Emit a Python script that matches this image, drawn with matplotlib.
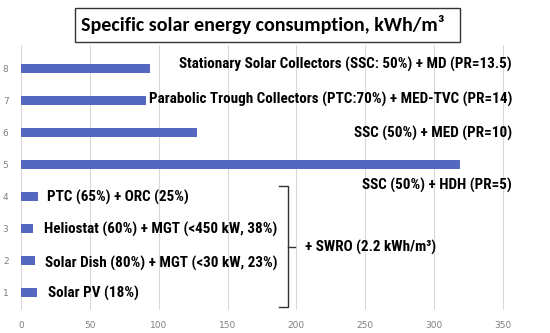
import matplotlib
matplotlib.use("Agg")
import matplotlib.pyplot as plt
from matplotlib.patches import Rectangle

# Data
positions = [1, 2, 3, 4, 5, 6, 7, 8]
values = [11.5, 10, 8.7, 12.5, 319, 128, 91, 94]
labels = [
    "Solar PV (18%)",
    "Solar Dish (80%) + MGT (<30 kW, 23%)",
    "Heliostat (60%) + MGT (<450 kW, 38%)",
    "PTC (65%) + ORC (25%)",
    "SSC (50%) + HDH (PR=5)",
    "SSC (50%) + MED (PR=10)",
    "Parabolic Trough Collectors (PTC:70%) + MED-TVC (PR=14)",
    "Stationary Solar Collectors (SSC: 50%) + MD (PR=13.5)",
]
xticks = [0, 50, 100, 150, 200, 250, 300, 350]
title = "Specific solar energy consumption, kWh/m³"
group_label = "+ SWRO (2.2 kWh/m³)"

narrow = ["Roboto Condensed", "Archivo Narrow", "Liberation Sans", "DejaVu Sans"]

W, H = 550, 333
fig = plt.figure(figsize=(W / 100, H / 100), dpi=100)
ax_left, ax_right = 21, 530
ax_bottom, ax_top = 310, 45
ax = fig.add_axes([ax_left / W, 1 - ax_bottom / H, (ax_right - ax_left) / W, (ax_bottom - ax_top) / H])
ax.set_xlim(0, (ax_right - ax_left) / 1.377)
ax.set_ylim(0.47, 8 + (68 - ax_top) / 32.1)

ax.barh(positions, values, height=0.28, color="#5468c0", zorder=3)
ax.set_xticks(xticks)
ax.set_yticks(positions)
ax.tick_params(axis="both", length=0, labelsize=6.5, colors="#7f7f7f")
ax.tick_params(axis="y", pad=9)
ax.tick_params(axis="x", pad=8)
ax.grid(axis="x", color="#d9d9d9", linewidth=0.8, zorder=0)
for s in ax.spines.values():
    s.set_visible(False)

fkw = dict(family=narrow, fontweight="bold", fontsize=10.9, color="black", va="center")

def px2x(px):
    return (px - ax_left) / 1.377

def py2y(py):
    return 8 - (py - 68) / 32.1

right_x = px2x(512)
ax.text(right_x, py2y(64), labels[7], ha="right", **fkw)
ax.text(right_x, py2y(99), labels[6], ha="right", **fkw)
ax.text(right_x, py2y(133), labels[5], ha="right", **fkw)
ax.text(right_x, py2y(185), labels[4], ha="right", **fkw)
ax.text(px2x(47), py2y(197), labels[3], ha="left", **fkw)
ax.text(px2x(44), py2y(229), labels[2], ha="left", **fkw)
ax.text(px2x(45), py2y(263), labels[1], ha="left", **fkw)
ax.text(px2x(48), py2y(293), labels[0], ha="left", **fkw)

# bracket
bx = px2x(288)
y_top, y_bot, y_mid = py2y(186), py2y(307), py2y(247)
ax.plot([px2x(279), bx, bx, px2x(279)], [y_top, y_top, y_bot, y_bot], color="#333333", lw=1.0, zorder=4)
ax.plot([bx, px2x(295)], [y_mid, y_mid], color="#333333", lw=1.0, zorder=4)
ax.text(px2x(305), y_mid, group_label, ha="left", **fkw)

# title box
fig.patches.append(Rectangle((75 / W, 1 - 42 / H), 385 / W, 34 / H, transform=fig.transFigure,
                             facecolor="white", edgecolor="#333333", linewidth=1.0, zorder=5))
fig.text(263 / W, 1 - 25 / H, title, ha="center", va="center", fontsize=14.4,
         family=["Carlito", "Lato", "DejaVu Sans"], fontweight="bold", zorder=6)

fig.savefig("out.png", dpi=100)
